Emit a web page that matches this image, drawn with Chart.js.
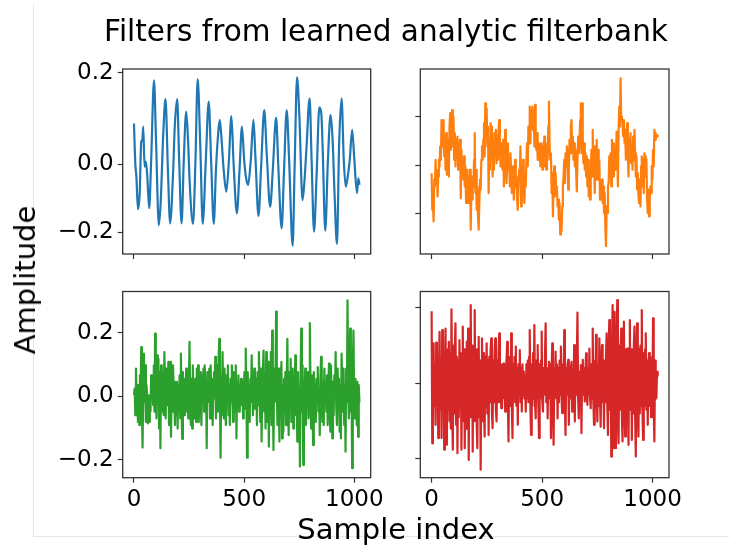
<!DOCTYPE html>
<html>
<head>
<meta charset="utf-8">
<title>Filters from learned analytic filterbank</title>
<script src="https://cdn.jsdelivr.net/npm/chart.js@4.4.1/dist/chart.umd.min.js"></script>
<style>
  html, body { margin: 0; padding: 0; background: #fff; }
  #fig { position: relative; width: 729px; height: 550px; overflow: hidden; font-family: 'DejaVu Sans', sans-serif; }
  #fig canvas { position: absolute; left: 0; top: 0; }
  .edge { position: absolute; left: 33px; top: 4px; width: 700px; height: 532px;
          border-left: 1px solid #e6e6e6; border-bottom: 1px solid #e6e6e6; }
  .lbl { position: absolute; font-size: 29px; color: #000; white-space: nowrap; line-height: normal; }
</style>
</head>
<body>
<div id="fig">
  <div class="edge"></div>
  <canvas id="c0" width="729" height="550"></canvas>
  <canvas id="c1" width="729" height="550"></canvas>
  <canvas id="c2" width="729" height="550"></canvas>
  <canvas id="c3" width="729" height="550"></canvas>
  <div class="lbl" style="left:386px; top:14px; font-size:29.5px; transform:translateX(-50%);">Filters from learned analytic filterbank</div>
  <div class="lbl" style="left:396px; top:512px; transform:translateX(-50%);">Sample index</div>
  <div class="lbl" style="left:25px; top:280px; transform:translate(-50%,-50%) rotate(-90deg);">Amplitude</div>
</div>
<script>
// ---- data -------------------------------------------------------------
const X_TICKS = [0, 500, 1000];
const Y_TICKS = [-0.2, 0.0, 0.2];
const Y_TICK_LABELS = ['\u22120.2', '0.0', '0.2'];
// first filter's left axis carries its marks at these levels
const TL_Y_TICKS = [-0.149, 0.0, 0.2];

// filter 0 (sample index / amplitude at turning points)
const BLUE_X = [0, 6, 11, 18, 26, 33, 38, 42, 48, 54, 60, 69, 78, 91, 100, 113, 121, 133, 143, 154,
  164, 178, 185, 196, 205, 216, 226, 237, 246, 253, 268, 279, 289, 301, 312, 326, 339, 350, 362, 372,
  381, 389, 396, 407, 419, 430, 442, 452, 467, 479, 490, 500, 509, 518, 530, 542, 551, 565, 577, 591,
  603, 618, 630, 645, 655, 670, 681, 693, 704, 720, 729, 740, 750, 765, 774, 783, 797, 806, 817, 829,
  841, 850, 856, 868, 880, 892, 901, 910, 921, 931, 942, 952, 961, 970, 979, 990, 1000, 1012, 1018, 1023];
const BLUE_Y = [0.089, 0.002, -0.027, -0.098, -0.063, 0.049, 0.053, 0.082, -0.005, 0.006, -0.023, -0.096, 0.009, 0.183, 0.053, -0.133, -0.085, 0.068, 0.142, -0.012,
  -0.129, -0.012, 0.082, 0.142, 0.009, -0.129, 0.009, 0.115, 0.046, -0.042, -0.130, 0.009, 0.186, 0.038, -0.130, 0.009, 0.137, 0.009, -0.130, -0.012,
  0.060, 0.097, 0.064, -0.012, -0.060, 0.002, 0.105, 0.002, -0.107, -0.012, 0.082, 0.009, -0.031, -0.045, 0.009, 0.097, 0.017, -0.113, -0.005, 0.118,
  0.017, -0.093, -0.012, 0.102, -0.005, -0.140, -0.012, 0.118, 0.009, -0.178, -0.005, 0.190, 0.111, -0.078, -0.034, 0.038, 0.144, 0.009, -0.147, -0.020,
  0.124, 0.111, 0.038, -0.145, 0.009, 0.108, 0.057, -0.063, -0.174, 0.046, 0.144, 0.009, -0.049, -0.027, 0.009, 0.075, 0.009, -0.063, -0.031, -0.045];

// filters 1-3 are listed every third sample
const SAMPLE_STEP = 3;

const ORANGE_Y = [
  -0.033, -0.184, -0.142, -0.232, -0.060, -0.088, 0.022, -0.053, -0.019, -0.129,
  -0.047, 0.022, -0.005, 0.077, 0.022, 0.186, 0.077, 0.159, 0.186, 0.036,
  0.118, -0.019, 0.132, -0.040, 0.104, 0.036, -0.047, 0.159, 0.214, 0.063,
  0.173, 0.227, 0.077, 0.200, 0.022, 0.132, -0.005, 0.104, 0.036, 0.118,
  -0.019, 0.090, 0.022, 0.104, -0.136, 0.063, -0.019, 0.022, -0.060, 0.036,
  -0.088, -0.005, -0.156, -0.047, -0.019, -0.156, -0.060, -0.115, -0.019, -0.266,
  -0.088, -0.142, -0.047, -0.088, 0.022, 0.132, -0.115, -0.019, -0.184, -0.088,
  -0.211, -0.266, -0.156, -0.060, -0.101, 0.022, 0.077, 0.022, 0.104, 0.173,
  0.036, 0.255, 0.132, 0.234, 0.077, 0.159, -0.115, 0.077, -0.019, 0.173,
  0.036, 0.159, -0.047, 0.090, -0.019, 0.132, 0.036, 0.145, 0.008, 0.118,
  0.022, 0.145, 0.186, 0.077, -0.005, 0.090, 0.036, -0.019, 0.104, -0.088,
  0.022, 0.145, 0.022, -0.074, -0.005, 0.090, -0.019, 0.022, -0.088, 0.049,
  -0.033, -0.115, -0.060, -0.005, -0.142, -0.047, 0.022, -0.088, -0.047, -0.142,
  -0.184, -0.088, -0.019, -0.047, 0.077, -0.170, -0.019, -0.088, 0.022, -0.115,
  -0.156, -0.047, -0.088, 0.022, 0.090, -0.005, 0.159, 0.090, 0.241, 0.090,
  0.227, 0.159, 0.241, 0.145, 0.227, 0.077, 0.248, 0.090, 0.063, 0.132,
  0.022, 0.077, 0.022, 0.090, -0.005, 0.036, 0.090, -0.019, 0.077, 0.022,
  0.118, -0.005, 0.090, -0.019, 0.063, 0.022, 0.159, 0.262, 0.077, 0.022,
  0.049, -0.115, -0.033, -0.211, -0.047, -0.005, -0.129, -0.033, -0.115, -0.088,
  -0.170, -0.142, -0.225, -0.156, -0.286, -0.225, -0.273, -0.170, -0.088, -0.047,
  0.022, -0.074, 0.049, -0.005, 0.077, 0.022, -0.101, -0.005, 0.104, 0.049,
  0.159, 0.186, 0.049, 0.118, 0.022, 0.090, -0.005, 0.063, -0.033, -0.108,
  0.022, 0.118, 0.049, 0.090, 0.186, 0.255, 0.049, 0.255, 0.118, 0.008,
  0.090, -0.019, 0.049, -0.047, 0.036, -0.088, 0.022, -0.129, -0.047, -0.142,
  -0.060, 0.063, -0.047, 0.145, -0.005, 0.077, -0.115, 0.022, -0.060, 0.104,
  -0.019, 0.063, -0.060, 0.022, -0.142, -0.088, -0.115, -0.060, -0.156, -0.088,
  -0.197, -0.115, -0.252, -0.334, -0.170, -0.197, -0.088, -0.074, 0.036, -0.033,
  0.049, -0.088, 0.104, 0.022, -0.047, 0.090, -0.005, 0.049, -0.019, 0.138,
  0.077, -0.088, 0.132, 0.241, 0.159, 0.358, 0.186, 0.200, 0.159, 0.118,
  0.186, 0.090, 0.145, 0.022, 0.118, 0.173, 0.049, -0.047, 0.104, 0.022,
  0.132, 0.008, 0.077, -0.019, 0.118, 0.022, 0.145, 0.049, -0.047, 0.036,
  -0.101, -0.033, -0.129, -0.156, -0.060, -0.170, -0.005, 0.036, -0.088, 0.022,
  -0.115, 0.049, 0.036, -0.047, 0.022, -0.142, -0.197, -0.101, -0.211, -0.142,
  -0.088, -0.115, -0.005, -0.060, 0.063, -0.005, 0.145, 0.132, 0.104, 0.125,
  0.118, 0.125];

const GREEN_Y = [
  0.003, 0.024, -0.060, 0.087, 0.003, 0.035, -0.081, 0.035, -0.091, 0.066,
  0.003, 0.155, -0.049, -0.162, 0.014, 0.134, -0.018, 0.097, -0.081, 0.035,
  -0.007, -0.086, 0.003, -0.081, 0.003, -0.049, 0.066, 0.003, 0.035, -0.028,
  0.097, -0.049, 0.197, 0.035, -0.070, 0.129, -0.007, 0.118, -0.102, 0.076,
  -0.164, 0.097, 0.014, -0.049, 0.076, -0.060, 0.139, 0.035, -0.070, 0.087,
  0.003, -0.028, 0.108, -0.091, 0.035, 0.108, -0.128, 0.035, -0.049, 0.097,
  0.035, -0.018, -0.091, 0.045, -0.060, 0.045, -0.102, 0.035, -0.018, 0.066,
  -0.070, 0.134, -0.049, -0.135, 0.076, -0.018, -0.060, 0.055, 0.003, 0.087,
  -0.049, 0.066, -0.070, 0.024, 0.171, -0.007, -0.091, 0.055, -0.102, 0.097,
  0.003, -0.070, 0.035, 0.055, -0.081, 0.087, -0.028, 0.097, -0.081, 0.014,
  0.076, -0.018, -0.091, 0.066, 0.003, 0.087, -0.049, 0.097, 0.003, 0.045,
  -0.164, 0.076, -0.018, 0.024, 0.087, -0.070, 0.097, -0.028, 0.055, -0.091,
  0.035, 0.076, -0.007, 0.124, -0.070, 0.035, 0.097, -0.049, 0.118, 0.181,
  -0.007, -0.194, 0.066, -0.060, 0.139, 0.003, -0.070, 0.087, -0.018, -0.091,
  0.066, 0.003, 0.097, -0.060, 0.035, -0.091, 0.055, -0.018, 0.097, -0.007,
  -0.081, 0.076, 0.014, -0.049, 0.097, -0.133, 0.045, -0.018, 0.066, -0.049,
  0.035, 0.003, 0.055, -0.028, 0.045, -0.070, 0.003, 0.076, -0.039, 0.150,
  0.014, -0.194, 0.076, -0.028, 0.035, -0.081, 0.055, -0.018, 0.129, 0.014,
  -0.060, 0.035, 0.087, -0.039, 0.003, 0.055, -0.091, 0.076, -0.028, 0.139,
  0.035, -0.081, 0.087, -0.143, 0.035, 0.087, 0.144, -0.049, 0.055, -0.102,
  0.139, 0.003, -0.081, 0.108, -0.159, 0.035, -0.049, 0.139, -0.091, 0.207,
  0.003, -0.170, 0.087, -0.018, 0.045, 0.267, 0.035, -0.091, 0.087, -0.007,
  -0.143, 0.087, 0.003, 0.108, -0.133, 0.035, -0.112, 0.055, -0.049, 0.076,
  -0.091, 0.035, 0.181, -0.028, -0.123, 0.076, 0.003, 0.118, -0.081, 0.003,
  0.087, -0.102, 0.045, -0.007, 0.129, -0.060, 0.035, -0.143, 0.076, -0.028,
  0.014, -0.222, 0.055, 0.213, -0.049, 0.097, -0.217, 0.035, 0.003, 0.087,
  -0.091, 0.045, -0.018, 0.076, -0.070, -0.028, 0.230, 0.035, -0.102, 0.066,
  -0.049, -0.154, 0.076, -0.007, 0.035, -0.081, 0.055, -0.018, 0.092, -0.049,
  0.014, -0.123, 0.055, 0.124, -0.028, -0.081, 0.045, -0.091, 0.087, -0.007,
  0.035, -0.049, 0.066, -0.091, 0.035, 0.103, -0.028, -0.112, 0.097, -0.018,
  -0.133, 0.045, -0.060, 0.066, 0.003, 0.139, -0.039, -0.091, 0.087, -0.007,
  0.055, -0.112, 0.035, -0.133, 0.134, 0.035, -0.049, 0.087, -0.091, 0.035,
  -0.175, 0.087, -0.018, 0.302, 0.024, -0.070, 0.076, 0.213, -0.049, 0.035,
  -0.227, 0.087, 0.207, -0.007, -0.070, 0.055, -0.018, -0.091, 0.045, -0.128,
  0.035, -0.020];

const RED_Y = [
  0.191, -0.159, 0.04, 0.106, -0.06, 0.05, -0.110, 0.108, -0.04, 0.06,
  -0.145, 0.03, 0.136, -0.07, 0.05, -0.145, 0.141, -0.05, 0.07, -0.176,
  0.04, 0.145, -0.06, -0.163, 0.09, -0.07, 0.11, -0.10, 0.08, -0.12,
  0.196, -0.06, -0.176, 0.10, -0.08, 0.09, 0.159, -0.11, 0.07, -0.185,
  0.06, -0.09, 0.114, -0.06, 0.08, -0.176, 0.05, 0.150, -0.10, 0.09,
  -0.172, 0.07, -0.12, 0.11, -0.08, 0.145, -0.203, 0.06, -0.09, 0.207,
  -0.07, 0.10, -0.181, 0.08, -0.10, 0.194, -0.06, 0.09, -0.11, -0.172,
  0.07, 0.123, -0.09, 0.06, -0.229, 0.05, 0.119, -0.10, 0.08, -0.07,
  -0.141, 0.07, -0.06, 0.106, -0.08, 0.06, -0.137, 0.07, -0.05, 0.09,
  0.119, -0.08, -0.119, 0.06, -0.05, 0.08, 0.119, -0.07, -0.101, 0.06,
  -0.05, 0.08, 0.132, -0.05, 0.04, -0.066, 0.05, -0.04, 0.03, 0.053,
  -0.03, -0.075, 0.04, 0.06, 0.110, -0.05, -0.154, 0.04, 0.07, -0.06,
  0.132, -0.06, -0.145, 0.05, -0.04, 0.07, -0.05, 0.097, -0.06, 0.04,
  -0.110, 0.05, -0.03, 0.088, -0.05, 0.04, -0.075, 0.05, -0.03, 0.031,
  -0.04, 0.02, -0.075, 0.05, -0.04, 0.06, -0.05, 0.07, 0.141, -0.06,
  -0.137, 0.05, -0.06, 0.08, -0.04, 0.154, -0.05, -0.093, 0.06, -0.04,
  0.101, -0.06, -0.145, 0.05, -0.04, 0.06, 0.137, -0.05, -0.075, 0.04,
  -0.03, 0.07, 0.159, -0.05, 0.04, -0.093, 0.03, 0.057, -0.04, 0.05,
  -0.145, 0.04, 0.106, -0.05, -0.163, 0.04, -0.03, 0.084, -0.04, 0.05,
  -0.093, 0.04, -0.05, 0.06, -0.03, 0.097, -0.04, -0.079, 0.05, -0.03,
  0.141, -0.05, -0.137, 0.04, -0.03, 0.05, 0.062, -0.110, 0.03, -0.04,
  0.04, 0.057, -0.075, 0.03, -0.04, 0.101, -0.101, 0.05, -0.03, 0.06,
  0.187, -0.04, -0.093, 0.03, -0.02, 0.048, -0.132, 0.03, 0.062, -0.03,
  0.04, -0.048, 0.03, 0.079, -0.03, -0.057, 0.04, -0.03, 0.092, -0.04,
  -0.066, 0.05, -0.04, 0.145, -0.05, -0.110, 0.06, -0.05, 0.128, -0.04,
  -0.101, 0.05, -0.06, 0.119, -0.04, -0.115, 0.06, 0.101, -0.05, 0.04,
  -0.119, 0.06, -0.05, 0.07, 0.132, -0.06, -0.137, 0.08, 0.167, -0.07,
  0.09, -0.194, 0.08, 0.207, -0.10, -0.172, 0.189, -0.08, -0.172, 0.09,
  0.220, -0.09, -0.159, 0.10, -0.07, 0.08, 0.145, -0.09, -0.154, 0.07,
  0.163, -0.08, -0.141, 0.09, -0.07, 0.092, -0.06, -0.163, 0.08, 0.167,
  -0.07, 0.09, -0.150, 0.07, -0.08, 0.10, 0.150, -0.09, -0.194, 0.08,
  0.159, -0.07, -0.141, 0.09, -0.08, 0.10, -0.06, 0.194, -0.07, -0.150,
  0.08, -0.06, 0.09, 0.132, -0.07, 0.06, -0.110, 0.05, 0.08, -0.06,
  0.07, -0.09, 0.06, -0.05, 0.172, -0.07, -0.154, 0.06, 0.02, -0.04,
  0.03, 0.02];

// ---- layout -----------------------------------------------------------
const W = 729, H = 550;
const X_MIN = -51.15, X_MAX = 1074.15;
const FONT = { family: 'DejaVu Sans', size: 23 };
const AXIS_COLOR = '#333';

const panels = [
  { id: 'c0', color: '#1f77b4', box: [122.7, 69, 370.7, 254], yRange: [-0.196, 0.208],
    yTicks: TL_Y_TICKS, xLabels: false, yLabels: true, smooth: true,
    points: BLUE_X.map((x, i) => ({ x, y: BLUE_Y[i] })) },
  { id: 'c1', color: '#ff7f0e', box: [420.3, 69, 669, 254], yRange: [-0.366, 0.396],
    yTicks: Y_TICKS, xLabels: false, yLabels: false, smooth: false,
    points: ORANGE_Y.map((y, i) => ({ x: i * SAMPLE_STEP, y })) },
  { id: 'c2', color: '#2ca02c', box: [122.7, 291.5, 370.7, 477.7], yRange: [-0.257, 0.330],
    yTicks: Y_TICKS, xLabels: true, yLabels: true, smooth: false,
    points: GREEN_Y.map((y, i) => ({ x: i * SAMPLE_STEP, y })) },
  { id: 'c3', color: '#d62728', box: [420.3, 291.5, 669, 477.7], yRange: [-0.250, 0.243],
    yTicks: Y_TICKS, xLabels: true, yLabels: false, smooth: false,
    points: RED_Y.map((y, i) => ({ x: i * SAMPLE_STEP, y })) }
];

// closed box around each plotting area
const boxFrame = {
  id: 'boxFrame',
  afterDatasetsDraw(chart) {
    const { ctx, chartArea: a } = chart;
    ctx.save();
    ctx.strokeStyle = AXIS_COLOR;
    ctx.lineWidth = 1.3;
    ctx.strokeRect(a.left, a.top, a.right - a.left, a.bottom - a.top);
    ctx.restore();
  }
};

const tickGrid = { drawOnChartArea: false, drawTicks: true, tickLength: 5, tickColor: AXIS_COLOR, tickWidth: 1.2 };

function buildPanel(p) {
  const [left, top, right, bottom] = p.box;
  const yW = p.yLabels ? left : 20;
  const xH = 40;
  return new Chart(document.getElementById(p.id), {
    type: 'line',
    data: {
      datasets: [{
        data: p.points,
        borderColor: p.color,
        borderWidth: 2.2,
        pointRadius: 0,
        fill: false,
        borderJoinStyle: 'round',
        cubicInterpolationMode: p.smooth ? 'monotone' : 'default',
        tension: 0
      }]
    },
    options: {
      responsive: false,
      animation: false,
      events: [],
      layout: {
        autoPadding: false,
        padding: { left: left - yW, top: top, right: W - right, bottom: H - bottom - xH }
      },
      plugins: { legend: { display: false }, tooltip: { enabled: false } },
      scales: {
        x: {
          type: 'linear', min: X_MIN, max: X_MAX,
          afterBuildTicks: ax => { ax.ticks = X_TICKS.map(v => ({ value: v })); },
          afterFit: ax => { ax.height = xH; },
          border: { display: false },
          grid: tickGrid,
          ticks: { display: p.xLabels, color: '#000', font: FONT, padding: 4, maxRotation: 0, autoSkip: false,
                   callback: v => String(v) }
        },
        y: {
          type: 'linear', min: p.yRange[0], max: p.yRange[1],
          afterBuildTicks: ax => { ax.ticks = p.yTicks.map(v => ({ value: v })); },
          afterFit: ax => { ax.width = yW; },
          border: { display: false },
          grid: tickGrid,
          ticks: { display: p.yLabels, color: '#000', font: FONT, padding: 4, autoSkip: false,
                   callback: (v, i) => Y_TICK_LABELS[i] }
        }
      }
    },
    plugins: [boxFrame]
  });
}

panels.forEach(buildPanel);
</script>
</body>
</html>
